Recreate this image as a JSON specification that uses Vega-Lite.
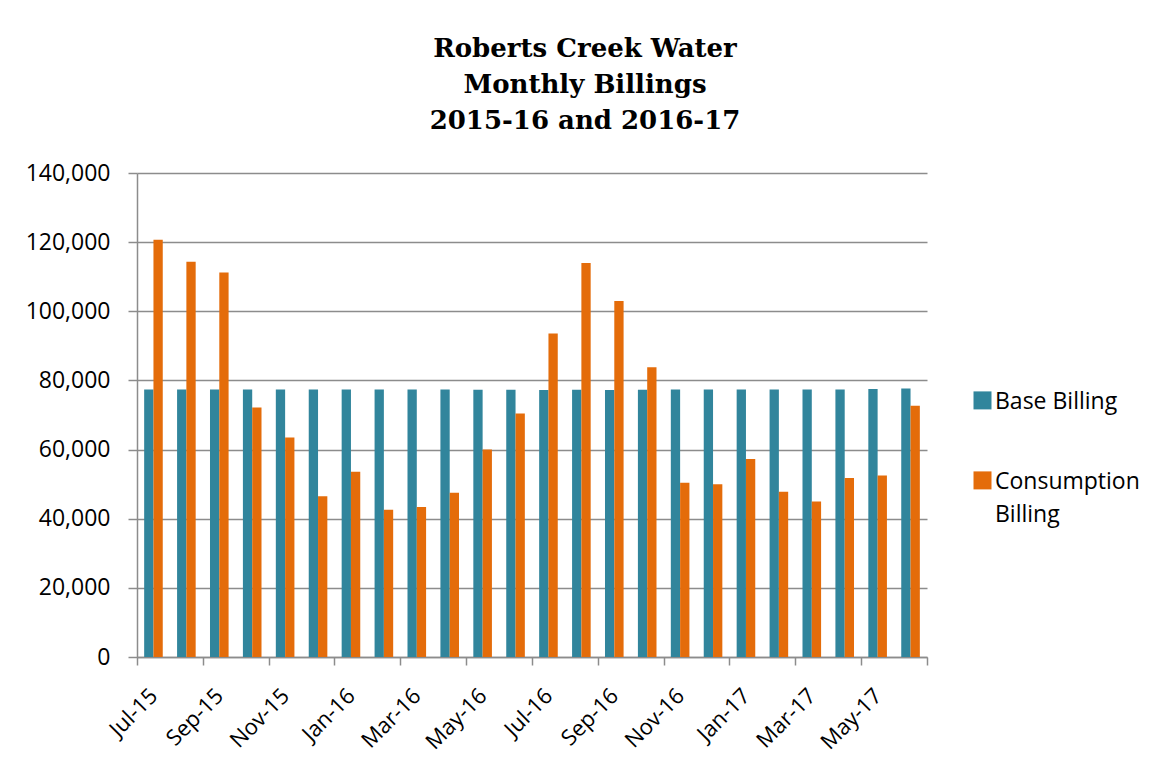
{
  "$schema": "https://vega.github.io/schema/vega-lite/v6.json",
  "width": 790,
  "height": 484,
  "autosize": {"type": "none"},
  "padding": {"left": 137, "top": 173, "right": 228, "bottom": 113},
  "background": "white",
  "title": {
    "text": ["Roberts Creek Water", "Monthly Billings"],
    "subtitle": "2015-16 and 2016-17",
    "font": "DejaVu Serif",
    "fontSize": 26,
    "fontWeight": "bold",
    "lineHeight": 36.5,
    "subtitleFont": "DejaVu Serif",
    "subtitleFontSize": 26,
    "subtitleFontWeight": "bold",
    "subtitleColor": "black",
    "subtitleLineHeight": 36.5,
    "subtitlePadding": 10,
    "color": "black",
    "anchor": "middle",
    "dx": 53,
    "offset": 28
  },
  "data": {
    "values": [
      {"month": "Jul-15", "series": "Base Billing", "value": 77400},
      {"month": "Jul-15", "series": "Consumption Billing", "value": 120700},
      {"month": "Aug-15", "series": "Base Billing", "value": 77400},
      {"month": "Aug-15", "series": "Consumption Billing", "value": 114300},
      {"month": "Sep-15", "series": "Base Billing", "value": 77350},
      {"month": "Sep-15", "series": "Consumption Billing", "value": 111200},
      {"month": "Oct-15", "series": "Base Billing", "value": 77350},
      {"month": "Oct-15", "series": "Consumption Billing", "value": 72200},
      {"month": "Nov-15", "series": "Base Billing", "value": 77400},
      {"month": "Nov-15", "series": "Consumption Billing", "value": 63500},
      {"month": "Dec-15", "series": "Base Billing", "value": 77350},
      {"month": "Dec-15", "series": "Consumption Billing", "value": 46500},
      {"month": "Jan-16", "series": "Base Billing", "value": 77350},
      {"month": "Jan-16", "series": "Consumption Billing", "value": 53600},
      {"month": "Feb-16", "series": "Base Billing", "value": 77400},
      {"month": "Feb-16", "series": "Consumption Billing", "value": 42600},
      {"month": "Mar-16", "series": "Base Billing", "value": 77350},
      {"month": "Mar-16", "series": "Consumption Billing", "value": 43400},
      {"month": "Apr-16", "series": "Base Billing", "value": 77400},
      {"month": "Apr-16", "series": "Consumption Billing", "value": 47500},
      {"month": "May-16", "series": "Base Billing", "value": 77300},
      {"month": "May-16", "series": "Consumption Billing", "value": 60000},
      {"month": "Jun-16", "series": "Base Billing", "value": 77300},
      {"month": "Jun-16", "series": "Consumption Billing", "value": 70400},
      {"month": "Jul-16", "series": "Base Billing", "value": 77200},
      {"month": "Jul-16", "series": "Consumption Billing", "value": 93600},
      {"month": "Aug-16", "series": "Base Billing", "value": 77300},
      {"month": "Aug-16", "series": "Consumption Billing", "value": 114000},
      {"month": "Sep-16", "series": "Base Billing", "value": 77200},
      {"month": "Sep-16", "series": "Consumption Billing", "value": 103000},
      {"month": "Oct-16", "series": "Base Billing", "value": 77300},
      {"month": "Oct-16", "series": "Consumption Billing", "value": 83800},
      {"month": "Nov-16", "series": "Base Billing", "value": 77400},
      {"month": "Nov-16", "series": "Consumption Billing", "value": 50400},
      {"month": "Dec-16", "series": "Base Billing", "value": 77350},
      {"month": "Dec-16", "series": "Consumption Billing", "value": 50000},
      {"month": "Jan-17", "series": "Base Billing", "value": 77400},
      {"month": "Jan-17", "series": "Consumption Billing", "value": 57300},
      {"month": "Feb-17", "series": "Base Billing", "value": 77400},
      {"month": "Feb-17", "series": "Consumption Billing", "value": 47800},
      {"month": "Mar-17", "series": "Base Billing", "value": 77400},
      {"month": "Mar-17", "series": "Consumption Billing", "value": 45000},
      {"month": "Apr-17", "series": "Base Billing", "value": 77400},
      {"month": "Apr-17", "series": "Consumption Billing", "value": 51800},
      {"month": "May-17", "series": "Base Billing", "value": 77500},
      {"month": "May-17", "series": "Consumption Billing", "value": 52500},
      {"month": "Jun-17", "series": "Base Billing", "value": 77700},
      {"month": "Jun-17", "series": "Consumption Billing", "value": 72700}
    ]
  },
  "mark": {"type": "bar", "stroke": null},
  "encoding": {
    "x": {
      "field": "month",
      "type": "nominal",
      "sort": null,
      "title": null,
      "scale": {"paddingInner": 0, "paddingOuter": 0},
      "axis": {
        "tickBand": "extent",
        "labelAngle": -45,
        "labelAlign": "right",
        "labelBaseline": "middle",
        "labelFont": "Open Sans",
        "labelFontSize": 22,
        "labelColor": "black",
        "labelPadding": 27,
        "labelExpr": "indexof(['Jul-15','Sep-15','Nov-15','Jan-16','Mar-16','May-16','Jul-16','Sep-16','Nov-16','Jan-17','Mar-17','May-17'], datum.value) >= 0 ? datum.label : ''",
        "tickSize": 8,
        "tickWidth": 1.5,
        "tickColor": "#8c8c8c",
        "tickOpacity": {
          "condition": {
            "test": "datum.extra || indexof(['Aug-15','Oct-15','Dec-15','Feb-16','Apr-16','Jun-16','Aug-16','Oct-16','Dec-16','Feb-17','Apr-17','Jun-17'], datum.value) >= 0",
            "value": 1
          },
          "value": 0
        },
        "domainColor": "#8c8c8c",
        "domainWidth": 1.5,
        "grid": false
      }
    },
    "xOffset": {"field": "series", "type": "nominal", "scale": {"paddingInner": 0, "paddingOuter": 0.77}},
    "y": {
      "field": "value",
      "type": "quantitative",
      "title": null,
      "scale": {"domain": [0, 140000], "nice": false},
      "axis": {
        "values": [0, 20000, 40000, 60000, 80000, 100000, 120000, 140000],
        "format": ",d",
        "labelFont": "Open Sans",
        "labelFontSize": 23,
        "labelColor": "black",
        "labelPadding": 18,
        "tickSize": 9,
        "tickWidth": 1.5,
        "tickColor": "#8c8c8c",
        "domainColor": "#8c8c8c",
        "domainWidth": 1.5,
        "grid": true,
        "gridColor": "#8c8c8c",
        "gridWidth": 1.5
      }
    },
    "color": {
      "field": "series",
      "type": "nominal",
      "scale": {"domain": ["Base Billing", "Consumption Billing"], "range": ["#31859c", "#e46c0a"]},
      "legend": {
        "title": null,
        "orient": "none",
        "legendX": 834,
        "legendY": 224,
        "symbolType": "M-1,-1.9H1V0.1H-1Z",
        "symbolSize": 324,
        "symbolStrokeWidth": 0,
        "labelFont": "Open Sans",
        "labelFontSize": 23,
        "labelColor": "black",
        "labelOffset": 1,
        "rowPadding": 56,
        "labelLimit": 300,
        "labelBaseline": "alphabetic",
        "labelExpr": "datum.label == 'Consumption Billing' ? ['Consumption', 'Billing'] : datum.label"
      }
    }
  },
  "config": {
    "view": {"stroke": null},
    "style": {"guide-label": {"lineHeight": 33}}
  }
}
